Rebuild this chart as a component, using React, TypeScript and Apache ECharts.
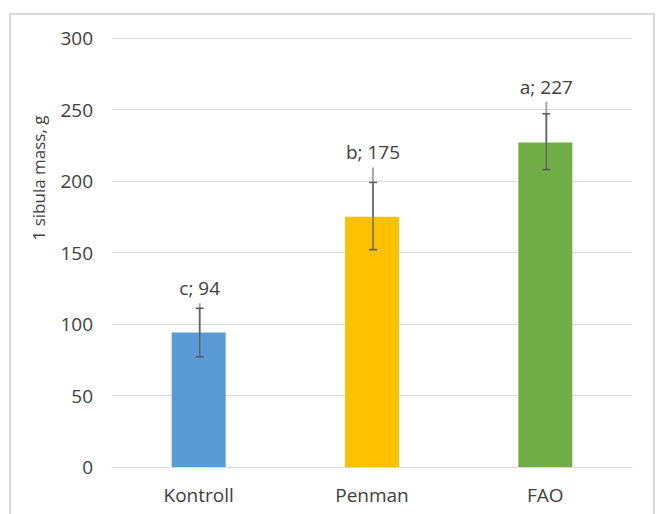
import React, { useEffect, useRef } from "react";
import * as echarts from "echarts";

const categories = ["Kontroll", "Penman", "FAO"];
const values = [94, 175, 227];
const letters = ["c", "b", "a"];
const errLow = [77, 152, 208];
const errHigh = [111, 199, 247];
const labelAnchor = [125, 220, 266];
const barColors = ["#5b9bd5", "#ffc000", "#70ad47"];
const yTicks = { min: 0, max: 300, interval: 50 };
const yTitle = "1 sibula mass, g";

const FONT = "'Open Sans', 'Noto Sans', sans-serif";
const TEXT = "#404040";

export default function App() {
  const ref = useRef<HTMLDivElement>(null);
  useEffect(() => {
    if (!ref.current) return;
    const chart = echarts.init(ref.current, undefined, { renderer: "svg" });
    const errData = categories.map((_, i) => [i, errLow[i], errHigh[i], values[i], labelAnchor[i]]);
    chart.setOption({
      animation: false,
      backgroundColor: "#ffffff",
      grid: { left: 112, right: 24, top: 38, bottom: 47 },
      xAxis: {
        type: "category",
        data: categories,
        axisLine: { lineStyle: { color: "#d9d9d9", width: 1 } },
        axisTick: { show: false },
        axisLabel: { color: TEXT, fontFamily: FONT, fontSize: 19, margin: 18 },
      },
      yAxis: {
        type: "value",
        min: yTicks.min,
        max: yTicks.max,
        interval: yTicks.interval,
        axisLine: { show: false },
        axisTick: { show: false },
        splitLine: { lineStyle: { color: "#d9d9d9", width: 1 } },
        axisLabel: { color: TEXT, fontFamily: FONT, fontSize: 19, margin: 19 },
      },
      graphic: [
        {
          type: "rect",
          shape: { x: 10, y: 14, width: 644, height: 520 },
          style: { fill: "none", stroke: "#d9d9d9", lineWidth: 2 },
          silent: true,
        },
        {
          type: "text",
          x: 38,
          y: 178,
          rotation: Math.PI / 2,
          style: {
            text: yTitle,
            fill: TEXT,
            font: `17px ${FONT}`,
            align: "center",
            verticalAlign: "middle",
          },
        },
      ],
      series: [
        {
          type: "bar",
          barWidth: 54,
          data: values.map((v, i) => ({ value: v, itemStyle: { color: barColors[i] } })),
          z: 2,
        },
        {
          type: "custom",
          z: 5,
          data: errData,
          renderItem: (params: any, api: any) => {
            const i = api.value(0);
            const lo = api.coord([i, api.value(1)]);
            const hi = api.coord([i, api.value(2)]);
            const top = api.coord([i, api.value(3)]);
            const lab = api.coord([i, api.value(4)]);
            const x = lo[0] + 1;
            const cap = 4;
            const dark = { stroke: "#595959", lineWidth: 1.5 };
            return {
              type: "group",
              children: [
                {
                  type: "line",
                  shape: { x1: x, y1: lab[1] + 15, x2: x, y2: top[1] },
                  style: { stroke: "#a6a6a6", lineWidth: 2 },
                },
                {
                  type: "line",
                  shape: { x1: x, y1: lo[1], x2: x, y2: hi[1] },
                  style: { stroke: "rgba(89,89,89,0.85)", lineWidth: 1.5 },
                },
                { type: "line", shape: { x1: x - cap, y1: hi[1], x2: x + cap, y2: hi[1] }, style: dark },
                { type: "line", shape: { x1: x - cap, y1: lo[1], x2: x + cap, y2: lo[1] }, style: dark },
                {
                  type: "text",
                  x: x,
                  y: lab[1],
                  style: {
                    text: `${letters[params.dataIndex]}; ${values[params.dataIndex]}`,
                    fill: TEXT,
                    font: `19px ${FONT}`,
                    align: "center",
                    verticalAlign: "middle",
                  },
                },
              ],
            };
          },
        },
      ],
    });
    return () => chart.dispose();
  }, []);
  return (
    <div
      ref={ref}
      style={{ position: "absolute", left: 0, top: 0, width: 656, height: 514 }}
    />
  );
}
